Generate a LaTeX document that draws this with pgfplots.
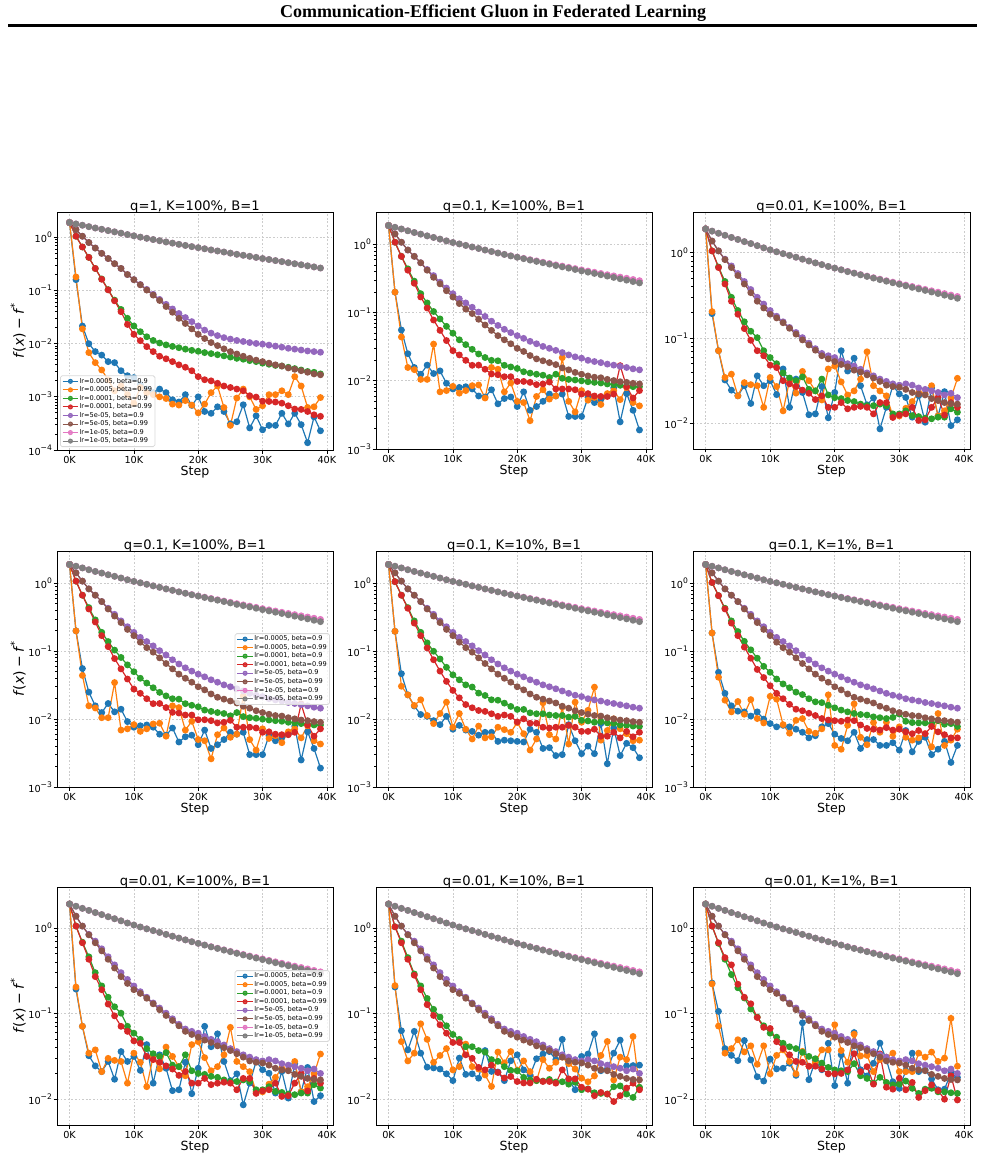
\documentclass[border=0pt]{standalone}
\usepackage{fontspec}
\setmainfont{DejaVu Sans}
\newfontfamily\hfont{Liberation Serif}
\usepackage{pgfplots}
\usepackage{pgfplotstable}
\pgfplotsset{compat=1.18}

\definecolor{c1}{HTML}{1F77B4}
\definecolor{c2}{HTML}{FF7F0E}
\definecolor{c3}{HTML}{2CA02C}
\definecolor{c4}{HTML}{D62728}
\definecolor{c5}{HTML}{9467BD}
\definecolor{c6}{HTML}{8C564B}
\definecolor{c7}{HTML}{E377C2}
\definecolor{c8}{HTML}{7F7F7F}

\newcommand{\tp}[1]{10\raisebox{2.3pt}{\fontsize{3.8}{4}\selectfont #1}}
\newcommand{\yl}{\textit{f}(\textit{x})\hspace{0.22em}−\hspace{0.22em}\textit{f}\raisebox{0.42em}{\fontsize{5}{5}\selectfont *}}

% ---------- data ----------
\pgfplotstableread{
k e f g h
0 1.9 1.9 1.9 1.9
1 1.40 1.40 1.79 1.79
2 1.05 1.05 1.69 1.69
3 0.80 0.80 1.59 1.59
4 0.63 0.63 1.50 1.50
5 0.50 0.50 1.42 1.42
6 0.40 0.40 1.34 1.34
7 0.32 0.32 1.27 1.27
8 0.26 0.26 1.20 1.20
9 0.20 0.20 1.13 1.13
10 0.16 0.16 1.07 1.07
11 0.13 0.128 1.01 1.01
12 0.105 0.102 0.96 0.96
13 0.085 0.082 0.91 0.91
14 0.068 0.065 0.865 0.865
15 0.055 0.050 0.82 0.82
16 0.045 0.039 0.78 0.78
17 0.037 0.030 0.74 0.74
18 0.031 0.024 0.705 0.705
19 0.026 0.019 0.67 0.67
20 0.0215 0.0150 0.64 0.64
21 0.018 0.0125 0.61 0.61
22 0.0158 0.0105 0.58 0.58
23 0.0142 0.0092 0.555 0.555
24 0.013 0.0080 0.53 0.53
25 0.0122 0.0071 0.505 0.505
26 0.0115 0.0064 0.48 0.48
27 0.011 0.0058 0.46 0.46
28 0.0105 0.0053 0.44 0.44
29 0.0101 0.0049 0.42 0.42
30 0.0098 0.0046 0.40 0.40
31 0.0094 0.0043 0.383 0.383
32 0.009 0.0040 0.366 0.366
33 0.0086 0.0038 0.35 0.35
34 0.0082 0.0035 0.334 0.334
35 0.0079 0.0033 0.319 0.319
36 0.0076 0.0031 0.305 0.305
37 0.0073 0.0029 0.291 0.291
38 0.0071 0.0027 0.278 0.278
39 0.0069 0.0026 0.265 0.265
}\Sa
\pgfplotstableread{
k e f g h
0 1.9 1.9 1.9 1.9
1 1.43 1.43 1.79 1.79
2 1.08 1.08 1.69 1.69
3 0.83 0.83 1.59 1.59
4 0.67 0.67 1.50 1.50
5 0.54 0.54 1.42 1.42
6 0.43 0.42 1.34 1.34
7 0.35 0.33 1.27 1.27
8 0.28 0.265 1.20 1.20
9 0.23 0.21 1.13 1.13
10 0.19 0.17 1.07 1.07
11 0.16 0.136 1.02 1.02
12 0.139 0.113 0.97 0.97
13 0.12 0.097 0.92 0.92
14 0.102 0.08 0.875 0.875
15 0.088 0.066 0.83 0.83
16 0.075 0.055 0.79 0.79
17 0.065 0.046 0.752 0.75
18 0.057 0.040 0.717 0.715
19 0.051 0.035 0.684 0.68
20 0.046 0.030 0.655 0.65
21 0.042 0.027 0.627 0.62
22 0.038 0.0235 0.60 0.59
23 0.035 0.021 0.575 0.565
24 0.032 0.0197 0.55 0.54
25 0.030 0.0185 0.527 0.515
26 0.028 0.0173 0.503 0.49
27 0.026 0.0155 0.483 0.47
28 0.024 0.0145 0.463 0.45
29 0.0225 0.0133 0.444 0.43
30 0.0215 0.0125 0.425 0.41
31 0.020 0.0118 0.408 0.393
32 0.0192 0.0113 0.392 0.376
33 0.0185 0.0111 0.376 0.36
34 0.0176 0.0105 0.361 0.344
35 0.017 0.0101 0.347 0.329
36 0.0163 0.0097 0.333 0.314
37 0.0157 0.0095 0.32 0.30
38 0.015 0.0092 0.307 0.286
39 0.0145 0.0090 0.295 0.273
}\Sb
\pgfplotstableread{
k e f g h
0 1.9 1.9 1.9 1.9
1 1.37 1.37 1.79 1.79
2 1.05 1.05 1.69 1.69
3 0.84 0.83 1.60 1.60
4 0.70 0.67 1.51 1.51
5 0.57 0.54 1.43 1.43
6 0.46 0.43 1.35 1.35
7 0.37 0.34 1.28 1.28
8 0.30 0.27 1.21 1.21
9 0.25 0.225 1.14 1.14
10 0.21 0.19 1.08 1.08
11 0.18 0.172 1.025 1.025
12 0.155 0.151 0.975 0.975
13 0.133 0.13 0.93 0.93
14 0.116 0.111 0.885 0.885
15 0.101 0.095 0.84 0.84
16 0.087 0.083 0.80 0.80
17 0.075 0.072 0.76 0.76
18 0.066 0.062 0.725 0.725
19 0.062 0.057 0.69 0.69
20 0.059 0.053 0.66 0.66
21 0.054 0.049 0.632 0.63
22 0.050 0.046 0.604 0.60
23 0.047 0.042 0.579 0.575
24 0.043 0.040 0.555 0.55
25 0.039 0.037 0.532 0.527
26 0.036 0.034 0.51 0.504
27 0.033 0.031 0.49 0.483
28 0.031 0.028 0.47 0.463
29 0.029 0.027 0.452 0.444
30 0.028 0.0265 0.435 0.426
31 0.029 0.025 0.418 0.409
32 0.028 0.023 0.402 0.392
33 0.026 0.022 0.387 0.376
34 0.025 0.0215 0.372 0.361
35 0.024 0.0195 0.358 0.346
36 0.023 0.0185 0.345 0.332
37 0.0215 0.0175 0.332 0.318
38 0.0225 0.017 0.319 0.305
39 0.020 0.0168 0.307 0.292
}\Sc
\pgfplotstableread{
k a b c d
0 1.9 1.9 1.9 1.9
1 0.16 0.18 1.05 1.05
2 0.0215 0.019 0.66 0.66
3 0.010 0.0068 0.42 0.42
4 0.0071 0.0044 0.26 0.26
5 0.0061 0.0032 0.165 0.163
6 0.0046 0.0021 0.104 0.103
7 0.0044 0.0013 0.066 0.064
8 0.0031 0.0016 0.044 0.040
9 0.0025 0.0011 0.030 0.023
10 0.0023 0.00075 0.0215 0.015
11 0.0017 0.0015 0.0168 0.0114
12 0.0014 0.0012 0.0135 0.0088
13 0.0012 0.0011 0.0115 0.0071
14 0.0014 0.0010 0.0103 0.0058
15 0.0012 0.00093 0.0095 0.0052
16 0.00088 0.00073 0.0089 0.0046
17 0.0008 0.0007 0.0084 0.0040
18 0.0011 0.00085 0.0079 0.0036
19 0.00069 0.0007 0.0075 0.0031
20 0.0010 0.0005 0.0072 0.0024
21 0.00053 0.00073 0.0068 0.0021
22 0.00049 0.0012 0.0065 0.0020
23 0.00065 0.0016 0.0062 0.0018
24 0.00053 0.00063 0.0059 0.0016
25 0.00031 0.00029 0.0056 0.0015
26 0.00034 0.00095 0.0053 0.0014
27 0.00071 0.0014 0.0051 0.0013
28 0.00026 0.0010 0.0048 0.00105
29 0.00044 0.00058 0.0046 0.00099
30 0.00024 0.00068 0.0043 0.00083
31 0.00029 0.0011 0.0041 0.00082
32 0.00029 0.0011 0.0039 0.00080
33 0.00049 0.0013 0.0038 0.00076
34 0.00031 0.0011 0.0036 0.00068
35 0.00049 0.0024 0.0034 0.00059
36 0.0003 0.0016 0.0032 0.00058
37 0.000137 0.00063 0.0030 0.00053
38 0.00042 0.00065 0.0029 0.00046
39 0.00023 0.00097 0.0027 0.00043
}\Na
\pgfplotstableread{
k a b c d
0 1.9 1.9 1.9 1.9
1 0.2 0.2 1.08 1.08
2 0.0557 0.044 0.67 0.67
3 0.025 0.0157 0.44 0.42
4 0.0157 0.0146 0.29 0.27
5 0.0125 0.0105 0.19 0.17
6 0.017 0.0105 0.139 0.117
7 0.0128 0.0346 0.104 0.078
8 0.014 0.0069 0.081 0.055
9 0.0092 0.0072 0.063 0.039
10 0.0076 0.0083 0.050 0.0277
11 0.008 0.0066 0.040 0.024
12 0.0082 0.0072 0.034 0.020
13 0.0076 0.0085 0.029 0.0169
14 0.006 0.0087 0.0248 0.017
15 0.0058 0.0056 0.022 0.0148
16 0.0074 0.0157 0.020 0.0126
17 0.0046 0.0148 0.0197 0.0123
18 0.0055 0.0069 0.0169 0.0115
19 0.0058 0.0093 0.016 0.0115
20 0.0042 0.005 0.0152 0.0098
21 0.0069 0.0048 0.0136 0.0098
22 0.0037 0.0026 0.013 0.0095
23 0.0042 0.0059 0.0125 0.0088
24 0.005 0.0074 0.0121 0.009
25 0.0064 0.0054 0.0112 0.0096
26 0.006 0.006 0.0125 0.0076
27 0.0064 0.0219 0.0109 0.0076
28 0.003 0.005 0.0105 0.0076
29 0.003 0.0035 0.0103 0.0074
30 0.003 0.0072 0.010 0.0064
31 0.0057 0.0052 0.0097 0.0065
32 0.0048 0.0057 0.0095 0.006
33 0.0054 0.0045 0.0093 0.0059
34 0.006 0.0065 0.009 0.0059
35 0.0079 0.0072 0.0088 0.0064
36 0.0025 0.0053 0.0086 0.0167
37 0.0065 0.008 0.0084 0.0082
38 0.0037 0.0048 0.0082 0.0056
39 0.0019 0.0043 0.0082 0.0072
}\Nb
\pgfplotstableread{
k a b c d
0 1.9 1.9 1.9 1.9
1 0.193 0.204 1.05 1.05
2 0.071 0.071 0.68 0.67
3 0.0322 0.0345 0.46 0.43
4 0.0245 0.0377 0.30 0.27
5 0.021 0.021 0.21 0.19
6 0.0276 0.030 0.155 0.129
7 0.0171 0.0284 0.12 0.094
8 0.036 0.0276 0.101 0.071
9 0.0276 0.0154 0.071 0.062
10 0.0316 0.0345 0.059 0.048
11 0.0217 0.027 0.05 0.045
12 0.0434 0.014 0.039 0.0316
13 0.0154 0.0316 0.034 0.029
14 0.033 0.0226 0.0316 0.027
15 0.023 0.0406 0.035 0.0245
16 0.0126 0.0316 0.025 0.0225
17 0.0129 0.024 0.024 0.019
18 0.027 0.0188 0.033 0.021
19 0.0116 0.0434 0.0215 0.0154
20 0.023 0.047 0.02 0.0154
21 0.071 0.0306 0.0195 0.0175
22 0.041 0.0215 0.0185 0.0148
23 0.058 0.024 0.018 0.0154
24 0.0276 0.033 0.0168 0.0158
25 0.0165 0.069 0.0161 0.0154
26 0.0198 0.0276 0.0161 0.0129
27 0.0086 0.024 0.0168 0.0175
28 0.0154 0.021 0.0161 0.0175
29 0.0276 0.0122 0.0129 0.0117
30 0.0221 0.0122 0.0129 0.0125
31 0.0201 0.015 0.014 0.0129
32 0.0118 0.018 0.0123 0.0154
33 0.0211 0.023 0.012 0.0108
34 0.0103 0.0221 0.0115 0.011
35 0.026 0.0276 0.0113 0.0154
36 0.0122 0.0122 0.0118 0.02
37 0.0235 0.014 0.0118 0.0125
38 0.0094 0.0198 0.0148 0.0175
39 0.011 0.0337 0.0135 0.0154
}\Nc
\pgfplotstableread{
k a b c d
0 1.9 1.9 1.9 1.9
1 0.197 0.197 1.06 1.06
2 0.0467 0.0305 0.67 0.67
3 0.0228 0.0228 0.44 0.43
4 0.0156 0.0159 0.28 0.26
5 0.0117 0.0193 0.19 0.17
6 0.011 0.0113 0.133 0.112
7 0.0095 0.0086 0.10 0.075
8 0.0083 0.0121 0.077 0.051
9 0.011 0.0178 0.058 0.036
10 0.0071 0.0076 0.045 0.0265
11 0.0081 0.0121 0.038 0.0206
12 0.0069 0.0071 0.032 0.0164
13 0.0066 0.0051 0.0297 0.0147
14 0.0058 0.0079 0.0242 0.0134
15 0.0064 0.0053 0.0223 0.013
16 0.0064 0.0055 0.0193 0.012
17 0.0047 0.0076 0.019 0.011
18 0.0049 0.007 0.0172 0.0115
19 0.0048 0.0064 0.0154 0.011
20 0.0047 0.0089 0.0139 0.0091
21 0.0046 0.0061 0.0139 0.0101
22 0.0071 0.0035 0.0124 0.0087
23 0.0064 0.0051 0.012 0.0087
24 0.0037 0.0174 0.012 0.0076
25 0.0038 0.0059 0.0115 0.0074
26 0.0029 0.0051 0.0113 0.0076
27 0.003 0.0151 0.0113 0.0076
28 0.0083 0.0043 0.0107 0.0081
29 0.0048 0.0178 0.011 0.0076
30 0.0031 0.009 0.0096 0.0066
31 0.004 0.0135 0.0094 0.0066
32 0.0031 0.0296 0.009 0.0071
33 0.0086 0.0049 0.0092 0.0056
34 0.0022 0.0068 0.0088 0.0056
35 0.0074 0.0101 0.0087 0.0064
36 0.0029 0.0072 0.0082 0.0053
37 0.0044 0.0061 0.0081 0.0066
38 0.0038 0.0048 0.0079 0.0055
39 0.0027 0.0049 0.0078 0.0064
}\Nd
\pgfplotstableread{
k a b c d
0 1.9 1.9 1.9 1.9
1 0.186 0.186 1.03 1.03
2 0.049 0.0414 0.66 0.66
3 0.024 0.019 0.43 0.42
4 0.0157 0.0128 0.28 0.26
5 0.0131 0.0182 0.195 0.17
6 0.0128 0.0118 0.14 0.115
7 0.0111 0.0194 0.105 0.079
8 0.0128 0.0102 0.079 0.054
9 0.01 0.0088 0.06 0.041
10 0.0086 0.0217 0.049 0.031
11 0.0077 0.0197 0.039 0.024
12 0.0081 0.0083 0.033 0.02
13 0.0077 0.0062 0.029 0.0165
14 0.0071 0.0096 0.025 0.014
15 0.0064 0.0102 0.023 0.0133
16 0.0053 0.0066 0.02 0.0122
17 0.0057 0.0062 0.018 0.0113
18 0.0077 0.0072 0.0175 0.0102
19 0.0086 0.0228 0.016 0.0097
20 0.006 0.0041 0.0147 0.0095
21 0.0052 0.0036 0.0136 0.0093
22 0.0048 0.0081 0.0128 0.0097
23 0.0064 0.0168 0.0121 0.0095
24 0.0037 0.0054 0.0117 0.0082
25 0.005 0.0042 0.0115 0.0073
26 0.005 0.0089 0.0108 0.0071
27 0.0041 0.0064 0.0105 0.0069
28 0.0041 0.009 0.0102 0.0075
29 0.0045 0.0056 0.0106 0.0069
30 0.0035 0.0077 0.0119 0.0071
31 0.0068 0.0054 0.0093 0.0065
32 0.0033 0.0049 0.0089 0.0061
33 0.0047 0.0053 0.0088 0.0068
34 0.0054 0.0061 0.0088 0.0061
35 0.003 0.0039 0.0086 0.0078
36 0.0036 0.0121 0.0095 0.0065
37 0.0047 0.0041 0.0084 0.0059
38 0.0023 0.0049 0.0086 0.0053
39 0.0041 0.0071 0.0078 0.0053
}\Ne
\pgfplotstableread{
k a b c d
0 1.9 1.9 1.9 1.9
1 0.204 0.212 1.03 1.03
2 0.063 0.047 0.70 0.67
3 0.0377 0.028 0.45 0.43
4 0.062 0.0345 0.29 0.28
5 0.0345 0.076 0.21 0.19
6 0.0237 0.05 0.15 0.127
7 0.0232 0.027 0.112 0.095
8 0.0225 0.0324 0.091 0.074
9 0.0198 0.039 0.072 0.059
10 0.0165 0.022 0.057 0.046
11 0.0302 0.024 0.05 0.046
12 0.0195 0.044 0.041 0.033
13 0.0198 0.024 0.041 0.030
14 0.0176 0.0225 0.037 0.0235
15 0.037 0.0192 0.0355 0.022
16 0.0211 0.0141 0.029 0.025
17 0.0208 0.0355 0.0277 0.0205
18 0.0165 0.0266 0.024 0.0177
19 0.0281 0.036 0.0217 0.0184
20 0.033 0.0217 0.0215 0.0161
21 0.022 0.028 0.018 0.0155
22 0.0192 0.021 0.0168 0.0155
23 0.0297 0.0165 0.0165 0.0171
24 0.0337 0.029 0.0163 0.0161
25 0.036 0.023 0.017 0.0161
26 0.029 0.027 0.0159 0.0154
27 0.05 0.031 0.016 0.022
28 0.017 0.026 0.015 0.0173
29 0.0129 0.0225 0.0158 0.0173
30 0.0316 0.0176 0.0129 0.0138
31 0.0337 0.016 0.0132 0.0131
32 0.058 0.0187 0.0119 0.011
33 0.0215 0.0324 0.0117 0.012
34 0.0225 0.0472 0.0115 0.0115
35 0.0345 0.0168 0.014 0.0094
36 0.049 0.031 0.0143 0.011
37 0.0245 0.029 0.0115 0.0135
38 0.0247 0.054 0.0105 0.0154
39 0.025 0.0135 0.0138 0.0129
}\Nf
\pgfplotstableread{
k a b c d
0 1.9 1.9 1.9 1.9
1 0.227 0.222 1.05 1.05
2 0.106 0.0715 0.66 0.67
3 0.039 0.0345 0.43 0.45
4 0.0325 0.039 0.285 0.37
5 0.0282 0.0495 0.2 0.22
6 0.0485 0.0357 0.152 0.155
7 0.0288 0.042 0.113 0.13
8 0.0183 0.0256 0.091 0.09
9 0.0163 0.042 0.072 0.069
10 0.0294 0.0198 0.059 0.067
11 0.0226 0.0325 0.053 0.047
12 0.023 0.0377 0.045 0.039
13 0.0263 0.0276 0.041 0.033
14 0.019 0.0198 0.039 0.0276
15 0.078 0.0362 0.0353 0.027
16 0.0169 0.0243 0.0316 0.0243
17 0.0282 0.027 0.0297 0.0243
18 0.0221 0.0377 0.0264 0.0225
19 0.045 0.0377 0.0235 0.0198
20 0.0144 0.074 0.022 0.0198
21 0.033 0.037 0.0215 0.02
22 0.0154 0.027 0.021 0.022
23 0.06 0.0575 0.026 0.034
24 0.0221 0.032 0.0188 0.021
25 0.0187 0.0325 0.0175 0.024
26 0.0263 0.021 0.0154 0.015
27 0.0452 0.029 0.018 0.0338
28 0.0288 0.031 0.0157 0.0138
29 0.016 0.0345 0.0147 0.0131
30 0.0134 0.021 0.015 0.0176
31 0.0215 0.021 0.0163 0.0129
32 0.0345 0.021 0.0134 0.0157
33 0.021 0.0345 0.0117 0.0105
34 0.022 0.031 0.0131 0.0126
35 0.0172 0.0355 0.0134 0.0147
36 0.0129 0.0276 0.0122 0.0126
37 0.0131 0.0302 0.0122 0.01
38 0.0202 0.088 0.0119 0.0188
39 0.018 0.0243 0.0117 0.0098
}\Ng

\pgfplotsset{
  every axis/.append style={
    scale only axis, ymode=log,
    xmin=-1.95, xmax=40.95, ymax=3,
    xtick={0,10,20,30,40}, xticklabels={0K,10K,20K,30K,40K},
    grid=major,
    major grid style={gray!40, line width=0.35pt, dash pattern=on 0.9pt off 0.9pt},
    tick align=outside, tick pos=left,
    major tick length=1.75pt, minor tick length=1pt,
    axis line style={line width=0.4pt},
    ticklabel style={font=\fontsize{4.85}{5.5}\selectfont},
    xticklabel style={inner sep=1pt},
    yticklabel style={inner sep=0.6pt},
    xlabel={Step},
    xlabel style={font=\fontsize{6.3}{7}\selectfont, inner sep=1pt, yshift=0.6pt},
    ylabel style={font=\fontsize{7}{8}\selectfont, at={(axis description cs:-0.141,0.5)}, anchor=center},
  },
  every axis plot/.append style={line width=0.6pt, mark=*, mark size=1.4pt},
}
\pgfplotsset{every axis title/.style={at={(0.5,1)}, anchor=south, inner sep=0pt, yshift=-0.8pt, font=\fontsize{6.55}{7}\selectfont}}
\pgfplotsset{every tick/.style={black, line width=0.35pt}}

\newcommand{\eight}[2]{%
\addplot[color=c1] table[x=k,y=a]{#1};
\addplot[color=c2] table[x=k,y=b]{#1};
\addplot[color=c3] table[x=k,y=c]{#1};
\addplot[color=c4] table[x=k,y=d]{#1};
\addplot[color=c5] table[x=k,y=e]{#2};
\addplot[color=c6] table[x=k,y=f]{#2};
\addplot[color=c7] table[x=k,y=g]{#2};
\addplot[color=c8] table[x=k,y=h]{#2};
}
\newcommand{\legtext}{%
\addlegendentry{lr=0.0005, beta=0.9}
\addlegendentry{lr=0.0005, beta=0.99}
\addlegendentry{lr=0.0001, beta=0.9}
\addlegendentry{lr=0.0001, beta=0.99}
\addlegendentry{lr=5e-05, beta=0.9}
\addlegendentry{lr=5e-05, beta=0.99}
\addlegendentry{lr=1e-05, beta=0.9}
\addlegendentry{lr=1e-05, beta=0.99}
}

\begin{document}
\begin{tikzpicture}
\useasboundingbox (0pt,0pt) rectangle (492.5pt,-585.5pt);
\node[font=\hfont\bfseries\fontsize{9}{10}\selectfont] at (246.5pt,-6.8pt) {Communication-Efficient Gluon in Federated Learning};
\draw[line width=1.1pt] (4pt,-12.8pt) -- (488.5pt,-12.8pt);

% row 1
\begin{axis}[ymin=1e-4, ytick={1e-4,1e-3,1e-2,1e-1,1}, yticklabels={\tp{−4},\tp{−3},\tp{−2},\tp{−1},\tp{0}},
  legend cell align=left,
  legend style={font=\fontsize{3.3}{3.7}\selectfont, draw=gray!30, fill=white, fill opacity=0.8, text opacity=1, draw opacity=1, rounded corners=0.8pt, inner xsep=0.9pt, inner ysep=0.7pt, row sep=0.17pt, nodes={inner sep=0.5pt, text height=2.4pt, text depth=0.7pt}, at={(0.011,0.0126)}, anchor=south west},
  legend image code/.code={\draw[mark repeat=2,mark phase=2,#1,mark size=1pt,line width=0.5pt] plot coordinates {(0pt,0pt) (3.85pt,0pt) (7.7pt,0pt)};},
  at={(28.5pt,-225pt)}, anchor=south west, width=138pt, height=119pt,
  title={q=1, K=100\%, B=1}, ylabel={\yl}]
\eight{\Na}{\Sa}
\legtext
\end{axis}
\begin{axis}[ymin=1e-3, ytick={1e-3,1e-2,1e-1,1}, yticklabels={\tp{−3},\tp{−2},\tp{−1},\tp{0}},
  at={(188pt,-224.5pt)}, anchor=south west, width=138pt, height=118.5pt,
  title={q=0.1, K=100\%, B=1}]
\eight{\Nb}{\Sb}
\end{axis}
\begin{axis}[ymin=5e-3, ytick={1e-2,1e-1,1}, yticklabels={\tp{−2},\tp{−1},\tp{0}},
  at={(346.5pt,-224.5pt)}, anchor=south west, width=138.5pt, height=118.5pt,
  title={q=0.01, K=100\%, B=1}]
\eight{\Nc}{\Sc}
\end{axis}

% row 2
\begin{axis}[ymin=1e-3, ytick={1e-3,1e-2,1e-1,1}, yticklabels={\tp{−3},\tp{−2},\tp{−1},\tp{0}},
  legend cell align=left,
  legend style={font=\fontsize{3.3}{3.7}\selectfont, draw=gray!30, fill=white, fill opacity=0.8, text opacity=1, draw opacity=1, rounded corners=0.8pt, inner xsep=0.9pt, inner ysep=0.7pt, row sep=0.17pt, nodes={inner sep=0.5pt, text height=2.4pt, text depth=0.7pt}, at={(0.989,0.5)}, anchor=east},
  legend image code/.code={\draw[mark repeat=2,mark phase=2,#1,mark size=1pt,line width=0.5pt] plot coordinates {(0pt,0pt) (3.85pt,0pt) (7.7pt,0pt)};},
  at={(28.5pt,-393.5pt)}, anchor=south west, width=138pt, height=118pt,
  title={q=0.1, K=100\%, B=1}, ylabel={\yl}]
\eight{\Nb}{\Sb}
\legtext
\end{axis}
\begin{axis}[ymin=1e-3, ytick={1e-3,1e-2,1e-1,1}, yticklabels={\tp{−3},\tp{−2},\tp{−1},\tp{0}},
  at={(188pt,-393.5pt)}, anchor=south west, width=138pt, height=118pt,
  title={q=0.1, K=10\%, B=1}]
\eight{\Nd}{\Sb}
\end{axis}
\begin{axis}[ymin=1e-3, ytick={1e-3,1e-2,1e-1,1}, yticklabels={\tp{−3},\tp{−2},\tp{−1},\tp{0}},
  at={(346.5pt,-393.5pt)}, anchor=south west, width=138.5pt, height=118pt,
  title={q=0.1, K=1\%, B=1}]
\eight{\Ne}{\Sb}
\end{axis}

% row 3
\begin{axis}[ymin=5e-3, ytick={1e-2,1e-1,1}, yticklabels={\tp{−2},\tp{−1},\tp{0}},
  legend cell align=left,
  legend style={font=\fontsize{3.3}{3.7}\selectfont, draw=gray!30, fill=white, fill opacity=0.8, text opacity=1, draw opacity=1, rounded corners=0.8pt, inner xsep=0.9pt, inner ysep=0.7pt, row sep=0.17pt, nodes={inner sep=0.5pt, text height=2.4pt, text depth=0.7pt}, at={(0.989,0.5)}, anchor=east},
  legend image code/.code={\draw[mark repeat=2,mark phase=2,#1,mark size=1pt,line width=0.5pt] plot coordinates {(0pt,0pt) (3.85pt,0pt) (7.7pt,0pt)};},
  at={(28.5pt,-562.5pt)}, anchor=south west, width=138pt, height=119pt,
  title={q=0.01, K=100\%, B=1}, ylabel={\yl}]
\eight{\Nc}{\Sc}
\legtext
\end{axis}
\begin{axis}[ymin=5e-3, ytick={1e-2,1e-1,1}, yticklabels={\tp{−2},\tp{−1},\tp{0}},
  at={(188pt,-562.5pt)}, anchor=south west, width=138pt, height=119pt,
  title={q=0.01, K=10\%, B=1}]
\eight{\Nf}{\Sc}
\end{axis}
\begin{axis}[ymin=5e-3, ytick={1e-2,1e-1,1}, yticklabels={\tp{−2},\tp{−1},\tp{0}},
  at={(346.5pt,-562.5pt)}, anchor=south west, width=138.5pt, height=119pt,
  title={q=0.01, K=1\%, B=1}]
\eight{\Ng}{\Sc}
\end{axis}
\end{tikzpicture}
\end{document}
